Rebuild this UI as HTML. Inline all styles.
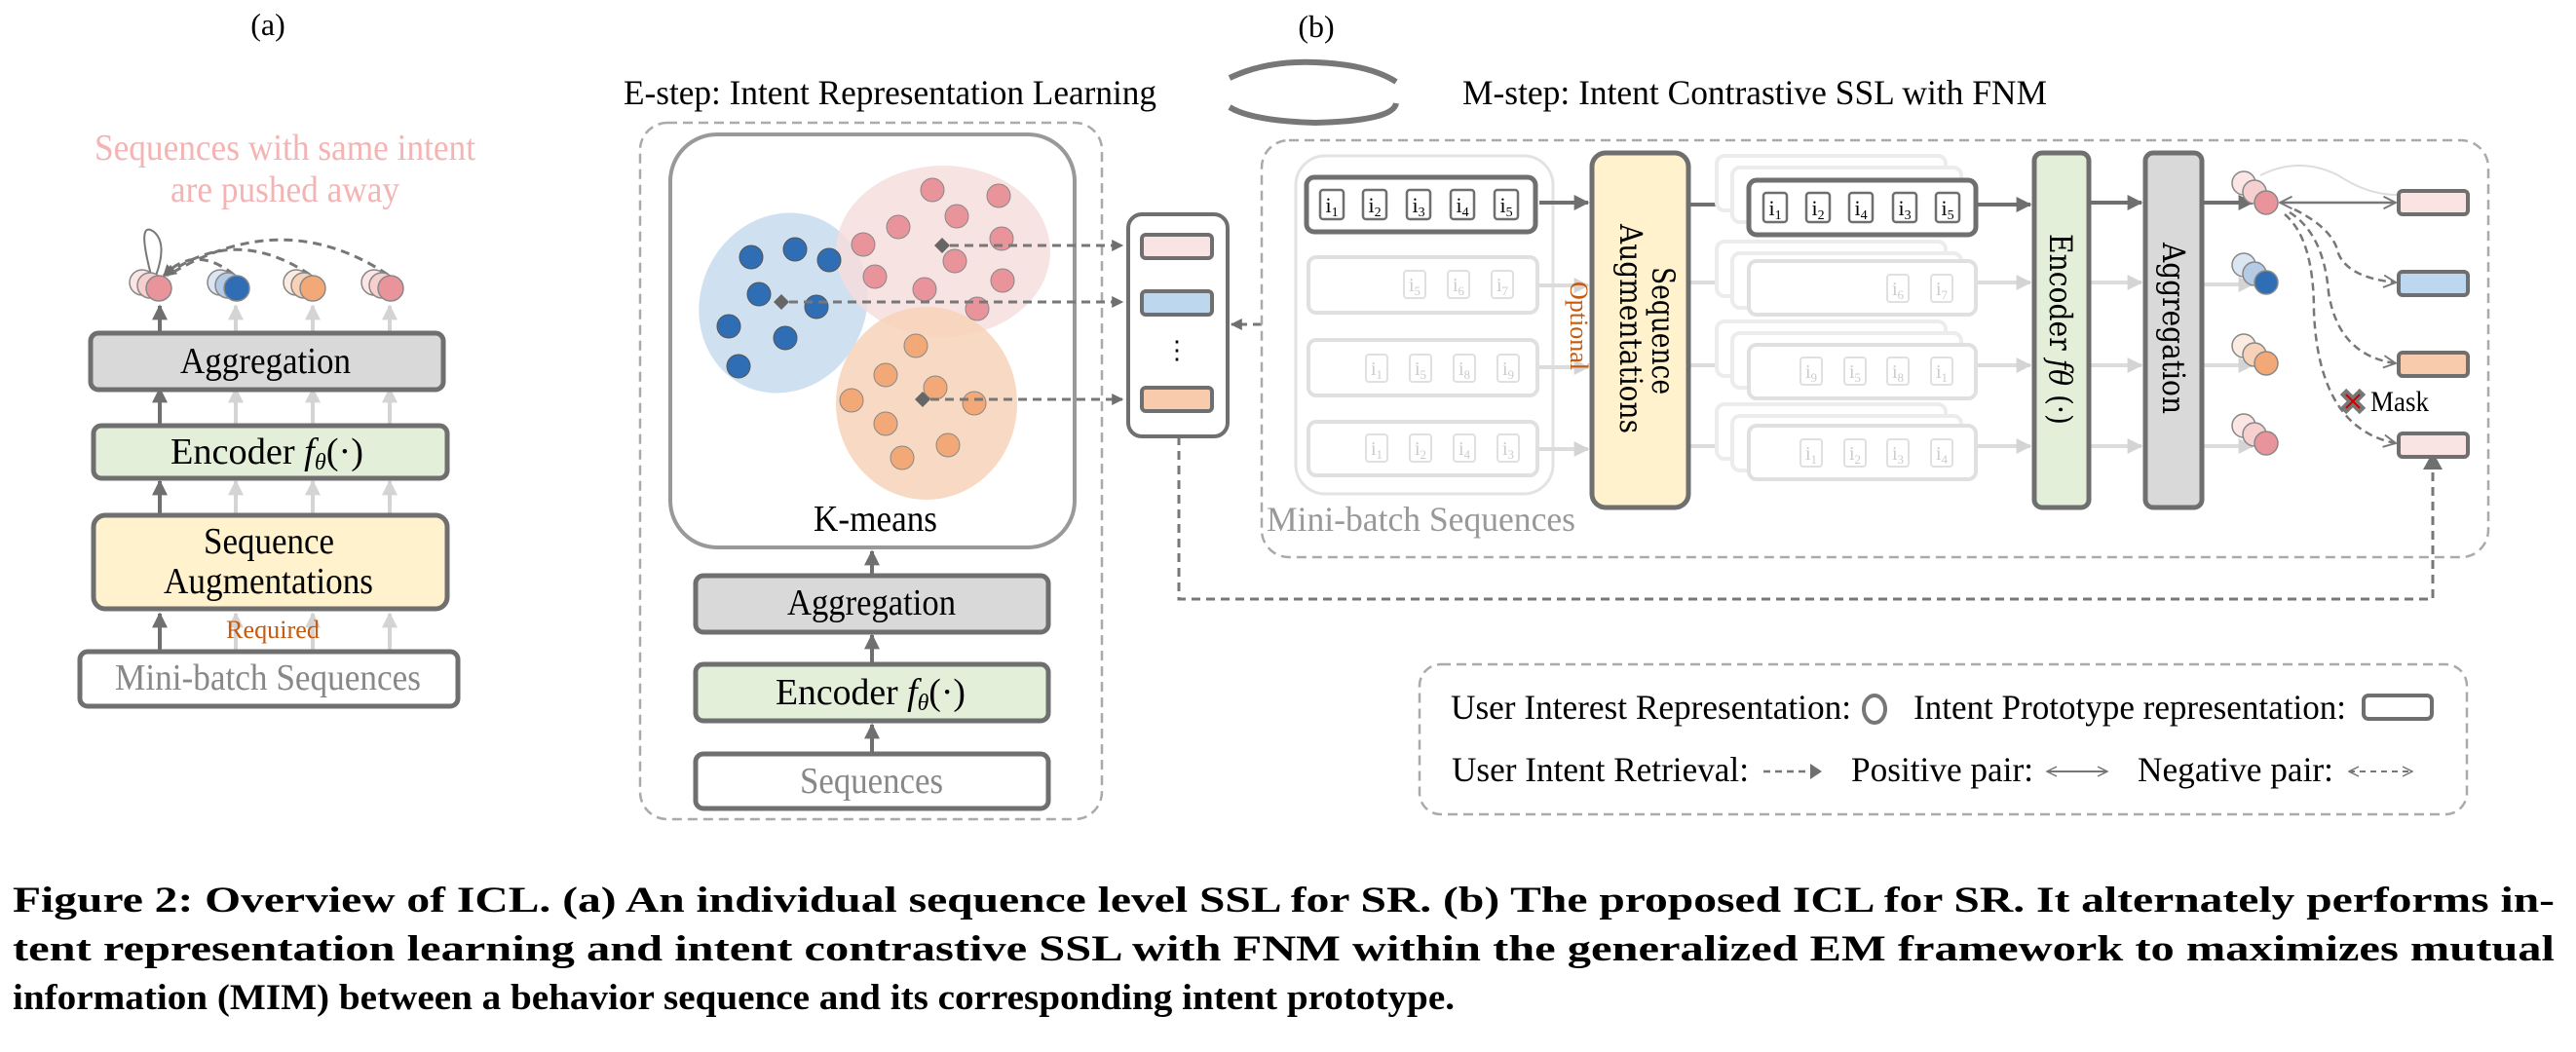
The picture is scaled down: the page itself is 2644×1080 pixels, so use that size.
<!DOCTYPE html>
<html><head><meta charset="utf-8"><style>
body{margin:0;background:#fff;}
svg{display:block;}
text{font-family:"Liberation Serif",serif;}
</style></head><body>
<svg width="2644" height="1080" viewBox="0 0 2644 1080" xmlns="http://www.w3.org/2000/svg">
<defs>
<marker id="ah" viewBox="0 0 10 10" refX="9" refY="5" markerWidth="4" markerHeight="4" orient="auto"><path d="M0,0 L10,5 L0,10 z" fill="#6f6f6f"/></marker>
<marker id="ahl" viewBox="0 0 10 10" refX="9" refY="5" markerWidth="4" markerHeight="4" orient="auto"><path d="M0,0 L10,5 L0,10 z" fill="#d4d4d4"/></marker>
<marker id="ov" viewBox="0 0 12 12" refX="11" refY="6" markerWidth="6" markerHeight="6" orient="auto"><path d="M1,1 L11,6 L1,11" fill="none" stroke="#777" stroke-width="1.5"/></marker>
<marker id="ovs" viewBox="0 0 12 12" refX="11" refY="6" markerWidth="6" markerHeight="6" orient="auto-start-reverse"><path d="M1,1 L11,6 L1,11" fill="none" stroke="#777" stroke-width="1.5"/></marker>
</defs>

<!-- (a) -->
<text x="275" y="36" font-size="32" text-anchor="middle">(a)</text>
<text x="97" y="164" font-size="38" fill="#f4b4b4" textLength="391" lengthAdjust="spacingAndGlyphs">Sequences with same intent</text>
<text x="175" y="207" font-size="38" fill="#f4b4b4" textLength="235" lengthAdjust="spacingAndGlyphs">are pushed away</text>
<g fill="none" stroke="#777" stroke-width="3" stroke-dasharray="9,6">
<path d="M240,282 Q200,250 168,283" marker-end="url(#ah)"/>
<path d="M318,282 Q240,230 170,283" marker-end="url(#ah)"/>
<path d="M398,282 Q290,210 172,283"/>
</g>
<path d="M155,282 Q140,225 158,238 Q172,250 160,283" fill="none" stroke="#777" stroke-width="2"/>
<g stroke="#888" stroke-width="1.5">
<circle cx="146" cy="290" r="13" fill="#fbe5e5"/><circle cx="154" cy="293" r="13" fill="#f6cfcf"/><circle cx="163" cy="296" r="13" fill="#e8949a"/>
<circle cx="226" cy="290" r="13" fill="#dbe6f2"/><circle cx="234" cy="293" r="13" fill="#b5cbe5"/><circle cx="243" cy="296" r="13" fill="#2f6db5"/>
<circle cx="304" cy="290" r="13" fill="#fcebe0"/><circle cx="312" cy="293" r="13" fill="#f7d2b8"/><circle cx="321" cy="296" r="13" fill="#f2a977"/>
<circle cx="384" cy="290" r="13" fill="#fbe5e5"/><circle cx="392" cy="293" r="13" fill="#f6cfcf"/><circle cx="401" cy="296" r="13" fill="#e8949a"/>
</g>
<g stroke-width="4">
<line x1="164" y1="342" x2="164" y2="314" stroke="#6f6f6f" marker-end="url(#ah)"/>
<line x1="242" y1="342" x2="242" y2="314" stroke="#d4d4d4" marker-end="url(#ahl)"/>
<line x1="321" y1="342" x2="321" y2="314" stroke="#d4d4d4" marker-end="url(#ahl)"/>
<line x1="400" y1="342" x2="400" y2="314" stroke="#d4d4d4" marker-end="url(#ahl)"/>
<line x1="164" y1="437" x2="164" y2="399" stroke="#6f6f6f" marker-end="url(#ah)"/>
<line x1="242" y1="437" x2="242" y2="399" stroke="#d4d4d4" marker-end="url(#ahl)"/>
<line x1="321" y1="437" x2="321" y2="399" stroke="#d4d4d4" marker-end="url(#ahl)"/>
<line x1="400" y1="437" x2="400" y2="399" stroke="#d4d4d4" marker-end="url(#ahl)"/>
<line x1="164" y1="529" x2="164" y2="494" stroke="#6f6f6f" marker-end="url(#ah)"/>
<line x1="242" y1="529" x2="242" y2="494" stroke="#d4d4d4" marker-end="url(#ahl)"/>
<line x1="321" y1="529" x2="321" y2="494" stroke="#d4d4d4" marker-end="url(#ahl)"/>
<line x1="400" y1="529" x2="400" y2="494" stroke="#d4d4d4" marker-end="url(#ahl)"/>
<line x1="164" y1="669" x2="164" y2="630" stroke="#6f6f6f" marker-end="url(#ah)"/>
<line x1="242" y1="669" x2="242" y2="630" stroke="#d4d4d4" marker-end="url(#ahl)"/>
<line x1="321" y1="669" x2="321" y2="630" stroke="#d4d4d4" marker-end="url(#ahl)"/>
<line x1="400" y1="669" x2="400" y2="630" stroke="#d4d4d4" marker-end="url(#ahl)"/>
</g>
<rect x="93" y="342" width="362" height="58" rx="8" fill="#d9d9d9" stroke="#6f6f6f" stroke-width="5"/>
<text x="185" y="383" font-size="38" textLength="175" lengthAdjust="spacingAndGlyphs">Aggregation</text>
<rect x="96" y="437" width="363" height="54" rx="8" fill="#e3efd9" stroke="#6f6f6f" stroke-width="5"/>
<text x="175" y="476" font-size="38" textLength="198" lengthAdjust="spacingAndGlyphs">Encoder <tspan font-style="italic">f</tspan><tspan font-size="24" font-style="italic" dy="6">θ</tspan><tspan dy="-6">(·)</tspan></text>
<rect x="96" y="529" width="363" height="96" rx="12" fill="#fff2cc" stroke="#6f6f6f" stroke-width="5"/>
<text x="209" y="568" font-size="38" textLength="134" lengthAdjust="spacingAndGlyphs">Sequence</text>
<text x="168" y="609" font-size="38" textLength="215" lengthAdjust="spacingAndGlyphs">Augmentations</text>
<text x="232" y="655" font-size="26" fill="#c55a11" textLength="96" lengthAdjust="spacingAndGlyphs">Required</text>
<rect x="82" y="669" width="388" height="56" rx="8" fill="#fff" stroke="#6f6f6f" stroke-width="5"/>
<text x="118" y="708" font-size="38" fill="#888" textLength="314" lengthAdjust="spacingAndGlyphs">Mini-batch Sequences</text>

<!-- (b) -->
<text x="1351" y="38" font-size="32" text-anchor="middle">(b)</text>
<text x="640" y="107" font-size="36" textLength="547" lengthAdjust="spacingAndGlyphs">E-step: Intent Representation Learning</text>
<text x="1501" y="107" font-size="36" textLength="600" lengthAdjust="spacingAndGlyphs">M-step: Intent Contrastive SSL with FNM</text>
<path d="M1262,80 Q1300,62 1350,64 Q1405,66 1433,84" fill="none" stroke="#777" stroke-width="6"/>
<path d="M1433,106 Q1430,124 1350,126 Q1285,124 1262,110" fill="none" stroke="#777" stroke-width="6"/>

<!-- E-step -->
<rect x="657" y="126" width="474" height="715" rx="28" fill="none" stroke="#aaa" stroke-width="2.5" stroke-dasharray="10,6"/>
<rect x="688" y="138" width="415" height="424" rx="48" fill="#fff" stroke="#999" stroke-width="4"/>
<ellipse cx="804" cy="311" rx="85" ry="94" fill="#cfe0f1" transform="rotate(25 804 311)"/>
<ellipse cx="968" cy="258" rx="110" ry="88" fill="#f6dcdc" opacity="0.8"/>
<ellipse cx="951" cy="414" rx="93" ry="99" fill="#f7d2b8" opacity="0.85"/>
<g fill="#2f6db5" stroke="#555" stroke-width="1">
<circle cx="771" cy="264" r="12"/><circle cx="816" cy="256" r="12"/><circle cx="851" cy="267" r="12"/><circle cx="779" cy="302" r="12"/><circle cx="838" cy="315" r="12"/><circle cx="748" cy="335" r="12"/><circle cx="806" cy="347" r="12"/><circle cx="758" cy="376" r="12"/>
</g>
<g fill="#e8949a" stroke="#888" stroke-width="1">
<circle cx="957" cy="195" r="12"/><circle cx="1025" cy="201" r="12"/><circle cx="922" cy="233" r="12"/><circle cx="982" cy="222" r="12"/><circle cx="1028" cy="245" r="12"/><circle cx="886" cy="251" r="12"/><circle cx="980" cy="268" r="12"/><circle cx="898" cy="284" r="12"/><circle cx="1029" cy="288" r="12"/><circle cx="949" cy="297" r="12"/><circle cx="1003" cy="317" r="12"/>
</g>
<g fill="#f2a977" stroke="#888" stroke-width="1">
<circle cx="940" cy="355" r="12"/><circle cx="909" cy="385" r="12"/><circle cx="960" cy="398" r="12"/><circle cx="874" cy="411" r="12"/><circle cx="1000" cy="414" r="12"/><circle cx="909" cy="435" r="12"/><circle cx="973" cy="457" r="12"/><circle cx="926" cy="470" r="12"/>
</g>
<g fill="#666"><path d="M967,244 l8,8 -8,8 -8,-8z"/><path d="M802,302 l8,8 -8,8 -8,-8z"/><path d="M947,402 l8,8 -8,8 -8,-8z"/></g>
<g stroke="#777" stroke-width="3" stroke-dasharray="9,6" fill="none">
<line x1="975" y1="252" x2="1152" y2="252" marker-end="url(#ah)"/>
<line x1="810" y1="310" x2="1152" y2="310" marker-end="url(#ah)"/>
<line x1="955" y1="410" x2="1152" y2="410" marker-end="url(#ah)"/>
<polyline points="1210,448 1210,615 2497,615 2497,472"/>
<line x1="1295" y1="333" x2="1264" y2="333" marker-end="url(#ah)"/>
</g>
<path d="M2497,464 l-10,18 h20z" fill="#6f6f6f"/>
<text x="835" y="545" font-size="38" textLength="127" lengthAdjust="spacingAndGlyphs">K-means</text>
<g stroke="#6f6f6f" stroke-width="4">
<line x1="895" y1="591" x2="895" y2="566" marker-end="url(#ah)"/>
<line x1="895" y1="682" x2="895" y2="652" marker-end="url(#ah)"/>
<line x1="895" y1="774" x2="895" y2="744" marker-end="url(#ah)"/>
</g>
<rect x="714" y="591" width="362" height="58" rx="8" fill="#d9d9d9" stroke="#6f6f6f" stroke-width="5"/>
<text x="808" y="631" font-size="38" textLength="173" lengthAdjust="spacingAndGlyphs">Aggregation</text>
<rect x="714" y="682" width="362" height="58" rx="8" fill="#e3efd9" stroke="#6f6f6f" stroke-width="5"/>
<text x="796" y="723" font-size="38" textLength="195" lengthAdjust="spacingAndGlyphs">Encoder <tspan font-style="italic">f</tspan><tspan font-size="24" font-style="italic" dy="6">θ</tspan><tspan dy="-6">(·)</tspan></text>
<rect x="714" y="774" width="362" height="56" rx="8" fill="#fff" stroke="#6f6f6f" stroke-width="5"/>
<text x="821" y="814" font-size="38" fill="#888" textLength="147" lengthAdjust="spacingAndGlyphs">Sequences</text>
<rect x="1158" y="220" width="102" height="228" rx="14" fill="#fff" stroke="#6f6f6f" stroke-width="4"/>
<rect x="1172" y="241" width="72" height="24" rx="4" fill="#f9e3e3" stroke="#6f6f6f" stroke-width="4"/>
<rect x="1172" y="299" width="72" height="24" rx="4" fill="#bdd7ee" stroke="#6f6f6f" stroke-width="4"/>
<text x="1208" y="368" font-size="26" text-anchor="middle">⋮</text>
<rect x="1172" y="398" width="72" height="24" rx="4" fill="#f8cbad" stroke="#6f6f6f" stroke-width="4"/>

<!-- M-step -->
<rect x="1295" y="144" width="1259" height="428" rx="28" fill="none" stroke="#aaa" stroke-width="2.5" stroke-dasharray="10,6"/>
<rect x="1330" y="160" width="264" height="347" rx="30" fill="#fff" stroke="#e3e3e3" stroke-width="3"/>
<text x="1300" y="545" font-size="36" fill="#999" textLength="317" lengthAdjust="spacingAndGlyphs">Mini-batch Sequences</text>
<rect x="1341" y="182" width="235" height="56" rx="8" fill="#fff" stroke="#6f6f6f" stroke-width="5"/>
<g fill="#fff" stroke="#6f6f6f" stroke-width="2.5">
<rect x="1355" y="195" width="24" height="30" rx="3"/><rect x="1399" y="195" width="24" height="30" rx="3"/><rect x="1444" y="195" width="24" height="30" rx="3"/><rect x="1489" y="195" width="24" height="30" rx="3"/><rect x="1534" y="195" width="24" height="30" rx="3"/>
</g>
<g font-size="22" text-anchor="middle">
<text x="1367" y="218">i<tspan font-size="14" dy="4">1</tspan></text><text x="1411" y="218">i<tspan font-size="14" dy="4">2</tspan></text><text x="1456" y="218">i<tspan font-size="14" dy="4">3</tspan></text><text x="1501" y="218">i<tspan font-size="14" dy="4">4</tspan></text><text x="1546" y="218">i<tspan font-size="14" dy="4">5</tspan></text>
</g>
<g fill="#fff" stroke="#e0e0e0" stroke-width="4">
<rect x="1343" y="264" width="235" height="57" rx="8"/><rect x="1343" y="349" width="235" height="57" rx="8"/><rect x="1343" y="433" width="235" height="55" rx="8"/>
<rect x="1441" y="278" width="22" height="28" rx="3" stroke-width="2"/><rect x="1486" y="278" width="22" height="28" rx="3" stroke-width="2"/><rect x="1531" y="278" width="22" height="28" rx="3" stroke-width="2"/>
<rect x="1402" y="364" width="22" height="28" rx="3" stroke-width="2"/><rect x="1447" y="364" width="22" height="28" rx="3" stroke-width="2"/><rect x="1492" y="364" width="22" height="28" rx="3" stroke-width="2"/><rect x="1537" y="364" width="22" height="28" rx="3" stroke-width="2"/>
<rect x="1402" y="446" width="22" height="28" rx="3" stroke-width="2"/><rect x="1447" y="446" width="22" height="28" rx="3" stroke-width="2"/><rect x="1492" y="446" width="22" height="28" rx="3" stroke-width="2"/><rect x="1537" y="446" width="22" height="28" rx="3" stroke-width="2"/>
</g>
<g font-size="20" text-anchor="middle" fill="#ccc">
<text x="1452" y="299">i<tspan font-size="13" dy="4">5</tspan></text><text x="1497" y="299">i<tspan font-size="13" dy="4">6</tspan></text><text x="1542" y="299">i<tspan font-size="13" dy="4">7</tspan></text>
<text x="1413" y="385">i<tspan font-size="13" dy="4">1</tspan></text><text x="1458" y="385">i<tspan font-size="13" dy="4">5</tspan></text><text x="1503" y="385">i<tspan font-size="13" dy="4">8</tspan></text><text x="1548" y="385">i<tspan font-size="13" dy="4">9</tspan></text>
<text x="1413" y="467">i<tspan font-size="13" dy="4">1</tspan></text><text x="1458" y="467">i<tspan font-size="13" dy="4">2</tspan></text><text x="1503" y="467">i<tspan font-size="13" dy="4">4</tspan></text><text x="1548" y="467">i<tspan font-size="13" dy="4">3</tspan></text>
</g>
<g stroke="#6f6f6f" stroke-width="4">
<line x1="1580" y1="208" x2="1630" y2="208" marker-end="url(#ah)"/>
<line x1="1735" y1="210" x2="1790" y2="210" marker-end="url(#ah)"/>
<line x1="2030" y1="210" x2="2084" y2="210" marker-end="url(#ah)"/>
<line x1="2146" y1="208" x2="2198" y2="208" marker-end="url(#ah)"/>
<line x1="2262" y1="208" x2="2312" y2="208" marker-end="url(#ah)"/>
</g>
<g stroke="#dcdcdc" stroke-width="4">
<line x1="1580" y1="293" x2="1630" y2="293" marker-end="url(#ahl)"/>
<line x1="1580" y1="377" x2="1630" y2="377" marker-end="url(#ahl)"/>
<line x1="1580" y1="461" x2="1630" y2="461" marker-end="url(#ahl)"/>
<line x1="1735" y1="290" x2="1790" y2="290" marker-end="url(#ahl)"/><line x1="1735" y1="375" x2="1790" y2="375" marker-end="url(#ahl)"/><line x1="1735" y1="458" x2="1790" y2="458" marker-end="url(#ahl)"/>
<line x1="2030" y1="290" x2="2084" y2="290" marker-end="url(#ahl)"/><line x1="2030" y1="375" x2="2084" y2="375" marker-end="url(#ahl)"/><line x1="2030" y1="458" x2="2084" y2="458" marker-end="url(#ahl)"/>
<line x1="2146" y1="290" x2="2198" y2="290" marker-end="url(#ahl)"/><line x1="2146" y1="375" x2="2198" y2="375" marker-end="url(#ahl)"/><line x1="2146" y1="458" x2="2198" y2="458" marker-end="url(#ahl)"/>
<line x1="2262" y1="292" x2="2312" y2="292" marker-end="url(#ahl)"/><line x1="2262" y1="375" x2="2312" y2="375" marker-end="url(#ahl)"/><line x1="2262" y1="458" x2="2312" y2="458" marker-end="url(#ahl)"/>
</g>
<text transform="translate(1612,289) rotate(90)" font-size="26" fill="#c55a11" textLength="91" lengthAdjust="spacingAndGlyphs">Optional</text>
<g fill="#fff" stroke="#ececec" stroke-width="4">
<rect x="1762" y="160" width="235" height="56" rx="8"/><rect x="1778" y="172" width="235" height="56" rx="8"/>
<rect x="1762" y="248" width="235" height="56" rx="8"/><rect x="1778" y="260" width="235" height="56" rx="8"/>
<rect x="1762" y="330" width="235" height="56" rx="8"/><rect x="1778" y="342" width="235" height="56" rx="8"/>
<rect x="1762" y="415" width="235" height="56" rx="8"/><rect x="1778" y="427" width="235" height="56" rx="8"/>
</g>
<g fill="#fff" stroke="#e0e0e0" stroke-width="4">
<rect x="1795" y="268" width="233" height="55" rx="8"/><rect x="1795" y="354" width="233" height="55" rx="8"/><rect x="1795" y="437" width="233" height="55" rx="8"/>
<rect x="1937" y="282" width="22" height="28" rx="3" stroke-width="2"/><rect x="1982" y="282" width="22" height="28" rx="3" stroke-width="2"/>
<rect x="1848" y="367" width="22" height="28" rx="3" stroke-width="2"/><rect x="1893" y="367" width="22" height="28" rx="3" stroke-width="2"/><rect x="1937" y="367" width="22" height="28" rx="3" stroke-width="2"/><rect x="1982" y="367" width="22" height="28" rx="3" stroke-width="2"/>
<rect x="1848" y="451" width="22" height="28" rx="3" stroke-width="2"/><rect x="1893" y="451" width="22" height="28" rx="3" stroke-width="2"/><rect x="1937" y="451" width="22" height="28" rx="3" stroke-width="2"/><rect x="1982" y="451" width="22" height="28" rx="3" stroke-width="2"/>
</g>
<g font-size="20" text-anchor="middle" fill="#ccc">
<text x="1948" y="303">i<tspan font-size="13" dy="4">6</tspan></text><text x="1993" y="303">i<tspan font-size="13" dy="4">7</tspan></text>
<text x="1859" y="388">i<tspan font-size="13" dy="4">9</tspan></text><text x="1904" y="388">i<tspan font-size="13" dy="4">5</tspan></text><text x="1948" y="388">i<tspan font-size="13" dy="4">8</tspan></text><text x="1993" y="388">i<tspan font-size="13" dy="4">1</tspan></text>
<text x="1859" y="472">i<tspan font-size="13" dy="4">1</tspan></text><text x="1904" y="472">i<tspan font-size="13" dy="4">2</tspan></text><text x="1948" y="472">i<tspan font-size="13" dy="4">3</tspan></text><text x="1993" y="472">i<tspan font-size="13" dy="4">4</tspan></text>
</g>
<rect x="1795" y="185" width="233" height="56" rx="8" fill="#fff" stroke="#6f6f6f" stroke-width="5"/>
<g fill="#fff" stroke="#6f6f6f" stroke-width="2.5">
<rect x="1810" y="198" width="24" height="30" rx="3"/><rect x="1854" y="198" width="24" height="30" rx="3"/><rect x="1898" y="198" width="24" height="30" rx="3"/><rect x="1943" y="198" width="24" height="30" rx="3"/><rect x="1987" y="198" width="24" height="30" rx="3"/>
</g>
<g font-size="22" text-anchor="middle">
<text x="1822" y="221">i<tspan font-size="14" dy="4">1</tspan></text><text x="1866" y="221">i<tspan font-size="14" dy="4">2</tspan></text><text x="1910" y="221">i<tspan font-size="14" dy="4">4</tspan></text><text x="1955" y="221">i<tspan font-size="14" dy="4">3</tspan></text><text x="1999" y="221">i<tspan font-size="14" dy="4">5</tspan></text>
</g>
<rect x="1634" y="157" width="99" height="364" rx="14" fill="#fff2cc" stroke="#6f6f6f" stroke-width="5"/>
<text transform="translate(1696,274) rotate(90)" font-size="32" style="font-family:'DejaVu Serif',serif" textLength="131" lengthAdjust="spacingAndGlyphs">Sequence</text>
<text transform="translate(1663,230) rotate(90)" font-size="32" style="font-family:'DejaVu Serif',serif" textLength="215" lengthAdjust="spacingAndGlyphs">Augmentations</text>
<rect x="2088" y="157" width="56" height="364" rx="8" fill="#e3efd9" stroke="#6f6f6f" stroke-width="5"/>
<text transform="translate(2104,240) rotate(90)" font-size="32" style="font-family:'DejaVu Serif',serif" textLength="196" lengthAdjust="spacingAndGlyphs">Encoder <tspan font-style="italic">fθ</tspan> (·)</text>
<rect x="2202" y="157" width="58" height="364" rx="8" fill="#d9d9d9" stroke="#6f6f6f" stroke-width="5"/>
<text transform="translate(2220,249) rotate(90)" font-size="32" style="font-family:'DejaVu Serif',serif" textLength="176" lengthAdjust="spacingAndGlyphs">Aggregation</text>
<path d="M2320,180 Q2360,160 2400,180 Q2430,200 2461,200" fill="none" stroke="#ddd" stroke-width="2"/>
<g stroke="#888" stroke-width="1.5">
<circle cx="2303" cy="188" r="12" fill="#fbe5e5"/><circle cx="2314" cy="197" r="12" fill="#f6cfcf"/><circle cx="2326" cy="208" r="12" fill="#e8949a"/>
<circle cx="2303" cy="272" r="12" fill="#dbe6f2"/><circle cx="2314" cy="281" r="12" fill="#b5cbe5"/><circle cx="2326" cy="290" r="12" fill="#2f6db5"/>
<circle cx="2303" cy="355" r="12" fill="#fcebe0"/><circle cx="2314" cy="364" r="12" fill="#f7d2b8"/><circle cx="2326" cy="373" r="12" fill="#f2a977"/>
<circle cx="2303" cy="437" r="12" fill="#fbe5e5"/><circle cx="2314" cy="446" r="12" fill="#f6cfcf"/><circle cx="2326" cy="455" r="12" fill="#e8949a"/>
</g>
<line x1="2340" y1="208" x2="2459" y2="208" stroke="#777" stroke-width="2.5" marker-end="url(#ov)" marker-start="url(#ovs)"/>
<g fill="none" stroke="#777" stroke-width="2.5" stroke-dasharray="8,5">
<path d="M2355,215 Q2395,235 2400,260 Q2410,285 2459,290" marker-end="url(#ov)"/>
<path d="M2350,218 Q2385,240 2390,300 Q2400,365 2459,373" marker-end="url(#ov)"/>
<path d="M2345,220 Q2375,245 2375,320 Q2380,440 2459,455" marker-end="url(#ov)"/>
</g>
<g fill="#fff" stroke="#6f6f6f" stroke-width="4">
<rect x="2462" y="196" width="71" height="24" rx="4" fill="#f9e3e3"/>
<rect x="2462" y="279" width="71" height="24" rx="4" fill="#bdd7ee"/>
<rect x="2462" y="362" width="71" height="24" rx="4" fill="#f8cbad"/>
<rect x="2462" y="445" width="71" height="24" rx="4" fill="#f9e3e3"/>
</g>
<path d="M2405,402 l20,20 M2425,402 l-20,20" stroke="#777" stroke-width="9"/>
<path d="M2408,405 l14,14 M2422,405 l-14,14" stroke="#c00" stroke-width="2"/>
<text x="2433" y="422" font-size="30" textLength="60" lengthAdjust="spacingAndGlyphs">Mask</text>

<!-- legend -->
<rect x="1457" y="682" width="1075" height="154" rx="22" fill="none" stroke="#aaa" stroke-width="2.5" stroke-dasharray="10,6"/>
<g font-size="36">
<text x="1489" y="738" textLength="411" lengthAdjust="spacingAndGlyphs">User Interest Representation:</text>
<text x="1964" y="738" textLength="444" lengthAdjust="spacingAndGlyphs">Intent Prototype representation:</text>
<text x="1490" y="802" textLength="305" lengthAdjust="spacingAndGlyphs">User Intent Retrieval:</text>
<text x="1900" y="802" textLength="187" lengthAdjust="spacingAndGlyphs">Positive pair:</text>
<text x="2194" y="802" textLength="201" lengthAdjust="spacingAndGlyphs">Negative pair:</text>
</g>
<ellipse cx="1924" cy="728" rx="11" ry="14" fill="none" stroke="#777" stroke-width="4"/>
<rect x="2426" y="714" width="70" height="24" rx="5" fill="none" stroke="#6f6f6f" stroke-width="4"/>
<line x1="1810" y1="792" x2="1860" y2="792" stroke="#777" stroke-width="2.5" stroke-dasharray="7,5"/>
<path d="M1858,784 l12,8 -12,8z" fill="#6f6f6f"/>
<line x1="2101" y1="792" x2="2163" y2="792" stroke="#777" stroke-width="2" marker-end="url(#ov)" marker-start="url(#ovs)"/>
<line x1="2411" y1="792" x2="2476" y2="792" stroke="#777" stroke-width="2" stroke-dasharray="6,5" marker-end="url(#ov)" marker-start="url(#ovs)"/>

<!-- caption -->
<g font-size="37" font-weight="bold">
<text x="13" y="936" textLength="2609" lengthAdjust="spacingAndGlyphs">Figure 2: Overview of ICL. (a) An individual sequence level SSL for SR. (b) The proposed ICL for SR. It alternately performs in-</text>
<text x="13" y="986" textLength="2609" lengthAdjust="spacingAndGlyphs">tent representation learning and intent contrastive SSL with FNM within the generalized EM framework to maximizes mutual</text>
<text x="13" y="1036" textLength="1480" lengthAdjust="spacingAndGlyphs">information (MIM) between a behavior sequence and its corresponding intent prototype.</text>
</g>
</svg>
</body></html>
